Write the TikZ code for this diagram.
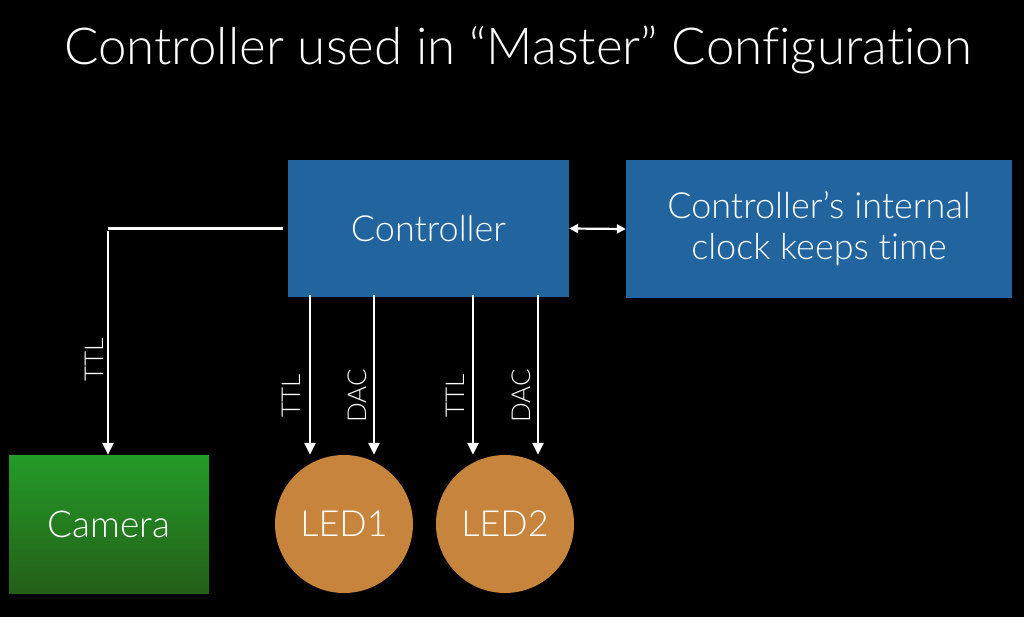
\documentclass[tikz,border=0pt]{standalone}
\usepackage{fontspec}
\setmainfont{Lato Light}[Ligatures={NoCommon}]
\usetikzlibrary{arrows.meta,shapes.geometric}
\definecolor{ctrlblue}{RGB}{34,101,158}
\definecolor{camtop}{RGB}{36,155,40}
\definecolor{cambot}{RGB}{36,95,24}
\definecolor{ledorange}{RGB}{198,132,60}
\begin{document}
\begin{tikzpicture}[x=1pt,y=-1pt,
  wire/.style={white,line width=2.8pt},
  arr/.style={wire,-{Triangle[width=11pt,length=12pt]}},
  dbl/.style={white,line width=2.2pt,{Triangle[width=9pt,length=9pt]}-{Triangle[width=9pt,length=9pt]}},
  bluebox/.style={rectangle,fill=ctrlblue,inner sep=0pt,text=white,font=\fontsize{36}{41}\selectfont,align=center},
  led/.style={circle,fill=ledorange,inner sep=0pt,minimum size=138pt,text=white,font=\fontsize{36}{40}\selectfont},
  sig/.style={rotate=90,text=white,inner sep=0pt,font=\fontsize{26}{30}\selectfont}]
\fill[black] (0,0) rectangle (1024,617);
\useasboundingbox (0,0) rectangle (1024,617);
\node[text=white,font=\fontsize{51}{60}\selectfont] (title) at (518,50) {Controller used in “Master” Configuration};
\node[bluebox,minimum width=281pt,minimum height=137pt] (ctrl) at (428.5,228.5) {Controller};
\node[bluebox,minimum width=386pt,minimum height=138pt] (clock) at (819,229) {Controller’s internal\\clock keeps time};
\node[rectangle,inner sep=0pt,minimum width=200pt,minimum height=138pt,top color=camtop,bottom color=cambot,text=white,font=\fontsize{37}{40}\selectfont] (cam) at (109,524) {Camera};
\node[led] (led1) at (344,524) {LED1};
\node[led] (led2) at (505,524) {LED2};
\draw[dbl] (ctrl.east) -- (clock.west);
\draw[wire] ([xshift=-5pt]ctrl.west) -- ([xshift=-1pt]cam.north |- ctrl.west);
\draw[arr] ([xshift=-1pt,yshift=-3pt]cam.north |- ctrl.west) -- ([xshift=-1pt]cam.north);
\draw[arr] ([xshift=-118.5pt,yshift=2pt]ctrl.south) -- ([xshift=-34pt]led1.north);
\draw[arr] ([xshift=-54.5pt,yshift=2pt]ctrl.south) -- ([xshift=30pt]led1.north);
\draw[arr] ([xshift=44.5pt,yshift=2pt]ctrl.south) -- ([xshift=-32pt]led2.north);
\draw[arr] ([xshift=109.5pt,yshift=2pt]ctrl.south) -- ([xshift=33pt]led2.north);
\node[sig] (tcam) at (94,360) {TTL};
\node[sig] (t1) at (291,396) {TTL};
\node[sig] (d1) at (357,396) {DAC};
\node[sig] (t2) at (455,396) {TTL};
\node[sig] (d2) at (521,396) {DAC};
\end{tikzpicture}
\end{document}
